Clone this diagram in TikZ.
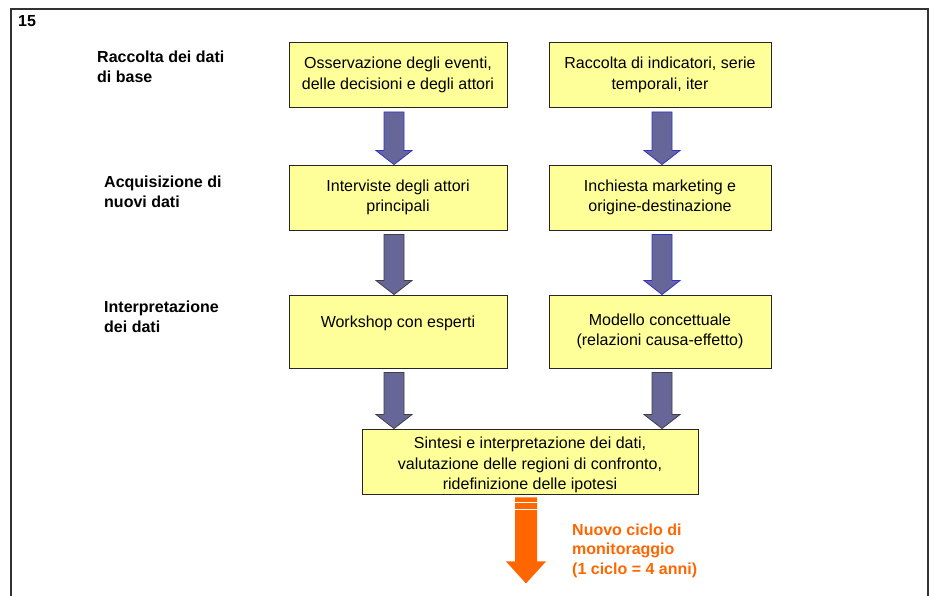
\documentclass[tikz,border=0pt]{standalone}
\usepackage{fontspec}
\setmainfont{Liberation Sans}
\usetikzlibrary{calc}

\definecolor{boxfill}{HTML}{FFFF99}
\definecolor{arrowfill}{HTML}{666699}
\definecolor{arrowblue}{HTML}{3333CC}
\definecolor{cycleorange}{HTML}{FF6600}

% Block arrow pointing down: x and top from #2, tip height from #3
\newcommand\blockarrow[3]{%
  \draw[#1] let \p1=(#2), \p2=(#3) in
    (\x1-10pt,\y1) -- (\x1+10pt,\y1) -- (\x1+10pt,\y2+14pt) -- (\x1+18pt,\y2+14pt)
    -- (\x1,\y2) -- (\x1-18pt,\y2+14pt) -- (\x1-10pt,\y2+14pt) -- cycle;}

\begin{document}
\begin{tikzpicture}[x=1pt,y=-1pt,
  stage/.style={draw=black!85, line width=0.9pt, fill=boxfill, align=center,
    font=\fontsize{16}{20.5}\selectfont, inner sep=0pt, minimum height=65pt},
  phase/.style={align=left, anchor=west, inner sep=0pt,
    font=\fontsize{16}{20}\selectfont\bfseries},
  flowblue/.style={fill=arrowfill, draw=arrowblue, line width=0.8pt},
  flowdark/.style={fill=arrowfill, draw=black!75, line width=0.8pt}]

\useasboundingbox (0,0) rectangle (935,596);
\fill[white] (0,0) rectangle (935,596);

% page frame, open at the bottom
\draw[black!80, line width=1.3pt] (11,596) -- (11,9) -- (928,9) -- (928,596);
\node[phase, anchor=west] (num) at (18,21) {15};

% phase labels
\node[phase] (l1) at (97,67) {Raccolta dei dati\\di base};
\node[phase] (l2) at (104,192) {Acquisizione di\\nuovi dati};
\node[phase] (l3) at (104,316.5) {Interpretazione\\dei dati};

% boxes
\node[stage, minimum width=218pt] (b1) at (398,75) {Osservazione degli eventi,\\delle decisioni e degli attori};
\node[stage, minimum width=222pt] (b2) at (660,75) {Raccolta di indicatori, serie\\temporali, iter};
\node[stage, minimum width=218pt] (b3) at (398,197.5) {Interviste degli attori\\principali};
\node[stage, minimum width=222pt] (b4) at (660,197.5) {Inchiesta marketing e\\origine-destinazione};
\node[stage, minimum width=218pt, minimum height=73pt] (b5) at (398,331.5) {Workshop con esperti\\\mbox{}};
\node[stage, minimum width=222pt, minimum height=73pt] (b6) at (660,331.5) {Modello concettuale\\(relazioni causa-effetto)};
\node[stage, minimum width=336pt] (b7) at (530,461.5) {\rule{0pt}{19pt}Sintesi e interpretazione dei dati,\\valutazione delle regioni di confronto,\\ridefinizione delle ipotesi};

% connectors
\blockarrow{flowblue}{$(b1.south)+(-4pt,-4pt)$}{b3.north}
\blockarrow{flowblue}{$(b2.south)+(2pt,-4pt)$}{b4.north}
\blockarrow{flowdark}{$(b3.south)+(-4pt,-4pt)$}{b5.north}
\blockarrow{flowblue}{$(b4.south)+(2pt,-4pt)$}{b6.north}
\blockarrow{flowdark}{$(b5.south)+(-4pt,-4pt)$}{b7.north}
\blockarrow{flowdark}{$(b6.south)+(2pt,-4pt)$}{b7.north}

% next monitoring cycle
\coordinate (next) at ($(b7.south)+(-4pt,-89pt)$);
\fill[cycleorange] let \p1=($(b7.south)+(-4pt,-3pt)$), \p2=(next) in
  (\x1-11pt,\y1) -- (\x1+11pt,\y1) -- (\x1+11pt,\y2+22pt) -- (\x1+20pt,\y2+22pt)
  -- (\x1,\y2) -- (\x1-20pt,\y2+22pt) -- (\x1-11pt,\y2+22pt) -- cycle;
\draw[white, line width=1.5pt] let \p1=($(b7.south)+(-4pt,-3pt)$) in
  (\x1-11pt,\y1-5pt) -- (\x1+11pt,\y1-5pt)
  (\x1-11pt,\y1-12pt) -- (\x1+11pt,\y1-12pt);
\node[phase, text=cycleorange, font=\fontsize{16}{19.5}\selectfont\bfseries] (cyc) at (572,550.5)
  {Nuovo ciclo di\\monitoraggio\\(1 ciclo = 4 anni)};
\end{tikzpicture}
\end{document}
